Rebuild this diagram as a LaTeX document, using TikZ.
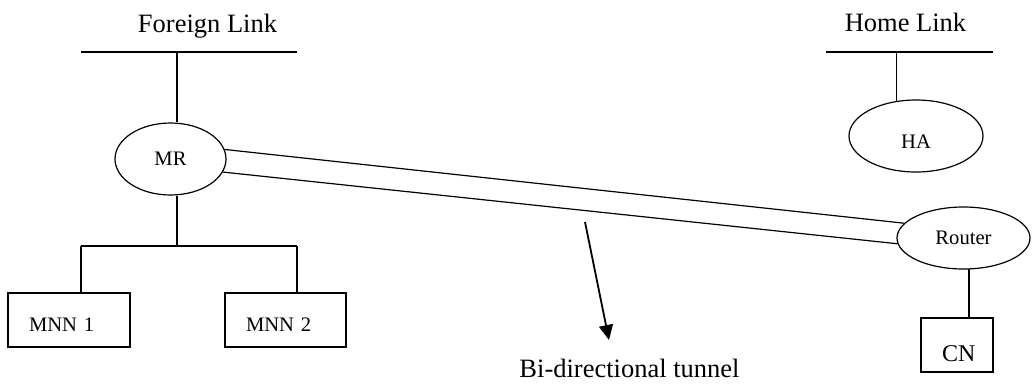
\documentclass[tikz,border=0pt]{standalone}
\usepackage{fontspec}
\setmainfont{Liberation Serif}
\usetikzlibrary{shapes.geometric,arrows.meta}

\tikzset{
  host/.style={draw, ellipse, inner sep=0pt, font=\fontsize{20.6}{24}\selectfont},
  hostbox/.style={draw, rectangle, inner xsep=21pt, inner ysep=0pt, minimum height=54pt,
    align=left, text height=23.5pt, text depth=0pt, font=\fontsize{20.6}{24}\selectfont},
  linklabel/.style={anchor=base, inner sep=0pt, font=\fontsize{26.5}{30}\selectfont}
}

\begin{document}
\begin{tikzpicture}[x=1pt, y=-1pt, line width=1.2pt]
\useasboundingbox (0,0) rectangle (1033,383);

% the two links
\coordinate (fl1) at (81,52);
\coordinate (fl2) at (297,52);
\coordinate (hl1) at (826,52);
\coordinate (hl2) at (993,52);
\draw (fl1) -- (fl2);
\draw (hl1) -- (hl2);
\node[linklabel] (foreign) at (207.5,32) {Foreign Link};
\node[linklabel] (home) at (905.5,31) {Home Link};

% routers and agents
\node[host, minimum width=111pt, minimum height=72pt] (mr) at (170.5,159) {MR};
\node[host, minimum width=134pt, minimum height=72pt, text height=25pt, text depth=0pt] (ha) at (916,136) {HA};
\node[host, minimum width=133pt, minimum height=62pt] (router) at (963.5,238) {Router};

% nodes behind the mobile router
\node[hostbox, text width=80pt] (mnn1) at (69,320) {MNN 1};
\node[hostbox, text width=79pt] (mnn2) at (285.5,320) {MNN 2};
\node[hostbox, text width=30pt, text height=33pt, font=\fontsize{24}{28}\selectfont] (cn) at (957,345) {CN};

\coordinate (fl) at (177,52);
\draw (fl) -- (fl |- mr.north);
\draw (ha.119 |- hl1) -- (ha.119);

\coordinate (b1) at (81,246);
\coordinate (b2) at (297,246);
\coordinate (bm) at (177,246);
\draw (bm |- mr.south) -- (bm);
\draw (b1) -- (b2);
\draw (b1) -- (b1 |- mnn1.north);
\draw (b2) -- (b2 |- mnn2.north);

\draw (router.280) -- (router.280 |- cn.north);

% tunnel
\draw (mr.10) -- (router.166);
\draw (mr.-14) -- (router.185);

\coordinate (tail) at (585,222);
\coordinate (tip) at (609,340);
\draw[line width=1.8pt, -{Triangle[width=14pt, length=15pt]}] (tail) -- (tip);
\node[linklabel] (tunnel) at (629.5,377) {Bi-directional tunnel};

\end{tikzpicture}
\end{document}
